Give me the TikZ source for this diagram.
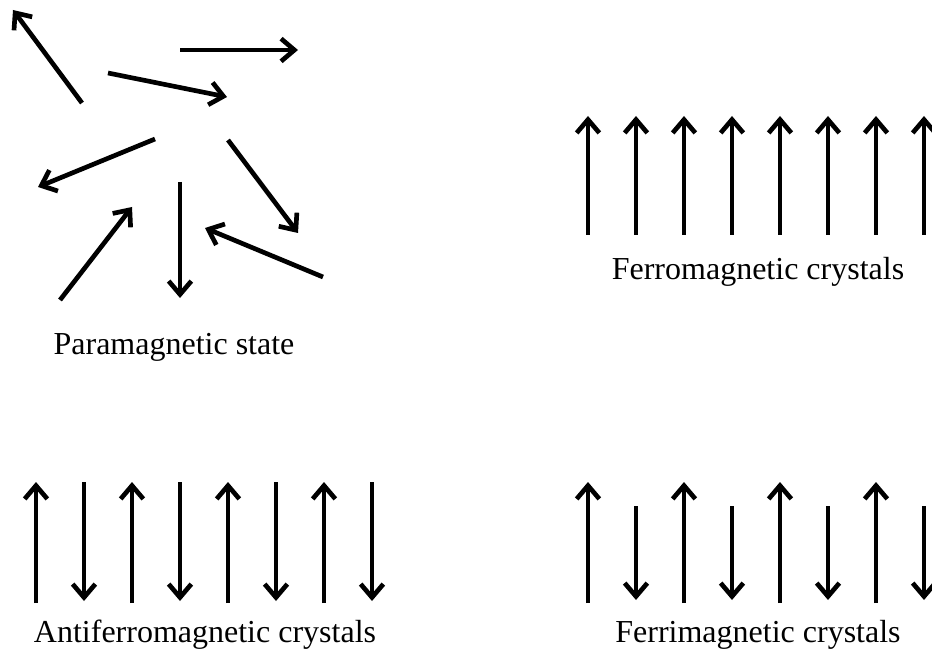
\documentclass[tikz,border=0pt]{standalone}
\usepackage{fontspec}
\setmainfont{Liberation Serif}
\usetikzlibrary{arrows.meta}

\begin{document}
\begin{tikzpicture}[x=0.75pt, y=-0.75pt, line width=3.5pt,
  >={Straight Barb[length=10pt, width=17pt, line join=miter]},
  spin/.style={->},
  caption/.style={font=\fontsize{24}{28}\selectfont, inner sep=0pt}]
  \useasboundingbox (0,0) rectangle (932,656);

  % --- paramagnetic state: moments in random directions ---
  \draw[spin] (82,103) -- (13,10);
  \draw[spin] (180,50) -- (298,50);
  \draw[spin] (108,73) -- (227,97);
  \draw[spin] (155,139) -- (38,187);
  \draw[spin] (228,140) -- (298,233);
  \draw[spin] (60,300) -- (132,207);
  \draw[spin] (180,182) -- (180,298);
  \draw[spin] (323,277) -- (205,228);
  \node[caption] (para) at (174,347) {Paramagnetic state};

  % --- ferromagnetic: all moments up ---
  \foreach \i in {0,...,7}{
    \draw[spin] (588+48*\i,235) -- (588+48*\i,116);
  }
  \node[caption] (ferro) at (758,272) {Ferromagnetic crystals};

  % --- antiferromagnetic: equal up and down moments ---
  \foreach \i in {0,2,4,6}{
    \draw[spin] (36+48*\i,603) -- (36+48*\i,482);
    \draw[spin] (84+48*\i,482) -- (84+48*\i,601);
  }
  \node[caption] (anti) at (205,635) {Antiferromagnetic crystals};

  % --- ferrimagnetic: down moments shorter ---
  \foreach \i in {0,2,4,6}{
    \draw[spin] (588+48*\i,603) -- (588+48*\i,482);
    \draw[spin] (636+48*\i,506) -- (636+48*\i,600);
  }
  \node[caption] (ferri) at (758,635) {Ferrimagnetic crystals};
\end{tikzpicture}
\end{document}
